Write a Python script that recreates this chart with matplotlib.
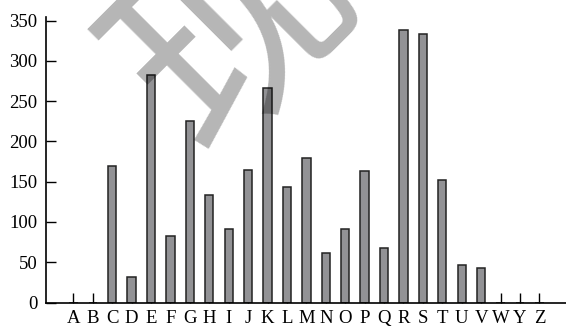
import numpy as np
import matplotlib.pyplot as plt

letters = ['A', 'B', 'C', 'D', 'E', 'F', 'G', 'H', 'I', 'J', 'K', 'L', 'M',
           'N', 'O', 'P', 'Q', 'R', 'S', 'T', 'U', 'V', 'W', 'Y', 'Z']
counts = [0, 0, 170, 32, 283, 82, 226, 133, 91, 164, 267, 143, 179,
          62, 91, 163, 68, 339, 333, 152, 46, 43, 0, 0, 0]

plt.rcParams['font.family'] = ['Liberation Serif', 'DejaVu Serif']
plt.rcParams['font.size'] = 13.5

fig = plt.figure(figsize=(5.66, 3.27), dpi=100)
ax = fig.add_axes([46 / 566, 1 - 302.5 / 327, 1 - 46 / 566, (302.5 - 16.7) / 327])

x = np.arange(len(letters))
ax.bar(x, counts, width=0.43, color='#929295', edgecolor='#222222', linewidth=1.1, zorder=2)

ax.set_xlim(-1.41, 25.37)
ax.set_ylim(0, 355)
ax.set_xticks(x)
ax.set_xticklabels(letters)
ax.set_yticks(np.arange(0, 351, 50))
ax.tick_params(direction='in', length=7, width=1, colors='black')
ax.tick_params(axis='x', pad=5.5)
ax.tick_params(axis='y', pad=6)
for name in ['top', 'right']:
    ax.spines[name].set_visible(False)
for name in ['left', 'bottom']:
    ax.spines[name].set_linewidth(1.2)

# watermark
fig.text(236 / 566, 1 - 30 / 327, '现', family=['Noto Sans CJK SC'], fontsize=165,
         rotation=45, rotation_mode='anchor', ha='center', va='center',
         color='black', alpha=0.29)

fig.savefig('out.png', dpi=100)
